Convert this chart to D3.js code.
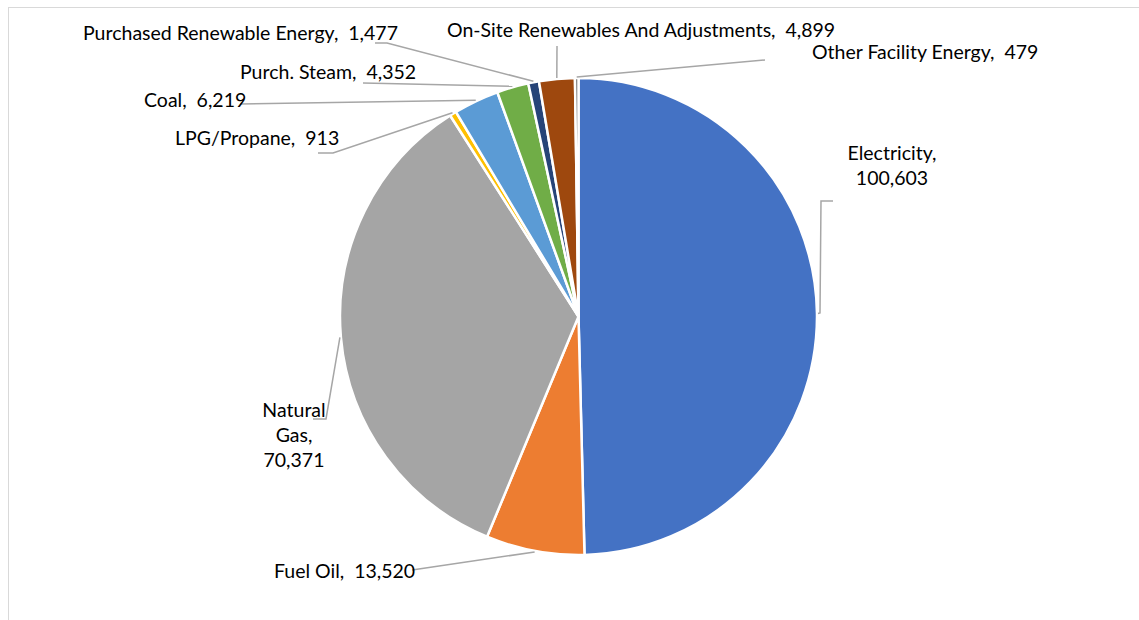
<!DOCTYPE html>
<html>
<head>
<meta charset="utf-8">
<script src="https://cdn.jsdelivr.net/npm/d3@7"></script>
<style>
  html, body { margin: 0; padding: 0; background: #fff; }
  svg { display: block; }
  text { font-family: Lato, "Open Sans", sans-serif; fill: #000; white-space: pre; }
</style>
</head>
<body>
<svg id="chart" width="1139" height="620"></svg>
<script>
// ---- data ----
const categories = [
  "Electricity", "Fuel Oil", "Natural Gas", "LPG/Propane", "Coal",
  "Purch. Steam", "Purchased Renewable Energy",
  "On-Site Renewables And Adjustments", "Other Facility Energy"
];
const values = [100603, 13520, 70371, 913, 6219, 4352, 1477, 4899, 479];
const colors = ["#4472C4", "#ED7D31", "#A5A5A5", "#FFC000", "#5B9BD5",
                "#70AD47", "#264478", "#9E480E", "#636363"];

// label text lines (Excel style "Name,  value")
const labelLines = [
  ["Electricity,", "100,603"],
  ["Fuel Oil,  13,520"],
  ["Natural", "Gas,", "70,371"],
  ["LPG/Propane,  913"],
  ["Coal,  6,219"],
  ["Purch. Steam,  4,352"],
  ["Purchased Renewable Energy,  1,477"],
  ["On-Site Renewables And Adjustments,  4,899"],
  ["Other Facility Energy,  479"]
];

// ---- layout (manually placed labels, like the original) ----
const cx = 578.5, cy = 316.5, R = 238.5;
const labelLayout = [
  { x: 892, y: 160, anchor: "middle", leader: [[833, 201], [821, 201], [820, 313]] },
  { x: 274, y: 578, anchor: "start",  leader: [[412, 570]] },
  { x: 294, y: 417, anchor: "middle", leader: [[313, 419], [326, 419]] },
  { x: 175, y: 145, anchor: "start",  leader: [[318, 153], [333, 153]] },
  { x: 144, y: 107, anchor: "start",  leader: [[240, 104]] },
  { x: 240, y: 79,  anchor: "start",  leader: [[363, 83]] },
  { x: 83,  y: 40,  anchor: "start",  leader: [[375, 43], [387, 43]] },
  { x: 447, y: 37,  anchor: "start",  leader: [[557, 46]] },
  { x: 812, y: 59,  anchor: "start",  leader: [[765, 60]] }
];
const lineHeight = 25;

const svg = d3.select("#chart");

// chart-area border
svg.append("rect")
  .attr("x", 8.5).attr("y", 7.5)
  .attr("width", 1200).attr("height", 700)
  .attr("fill", "none").attr("stroke", "#D9D9D9").attr("stroke-width", 1);

const pie = d3.pie().sort(null).value(d => d)(values);
const arc = d3.arc().innerRadius(0).outerRadius(R);

const g = svg.append("g").attr("transform", `translate(${cx},${cy})`);

g.selectAll("path.slice")
  .data(pie)
  .join("path")
  .attr("class", "slice")
  .attr("d", arc)
  .attr("fill", (d, i) => colors[i])
  .attr("stroke", "#fff")
  .attr("stroke-width", 2.5)
  .attr("stroke-linejoin", "round");

// leader lines
const line = d3.line();
pie.forEach((d, i) => {
  const mid = (d.startAngle + d.endAngle) / 2;
  const px = cx + (R + 1) * Math.sin(mid);
  const py = cy - (R + 1) * Math.cos(mid);
  const pts = labelLayout[i].leader.concat([[px, py]]);
  svg.append("path")
    .attr("d", line(pts))
    .attr("fill", "none")
    .attr("stroke", "#A6A6A6")
    .attr("stroke-width", 1.5);
});

// labels
labelLines.forEach((lines, i) => {
  const L = labelLayout[i];
  const t = svg.append("text")
    .attr("x", L.x).attr("y", L.y)
    .attr("text-anchor", L.anchor)
    .attr("font-size", 19.5);
  lines.forEach((s, j) => {
    t.append("tspan").attr("x", L.x).attr("dy", j === 0 ? 0 : lineHeight).text(s);
  });
});
</script>
</body>
</html>
